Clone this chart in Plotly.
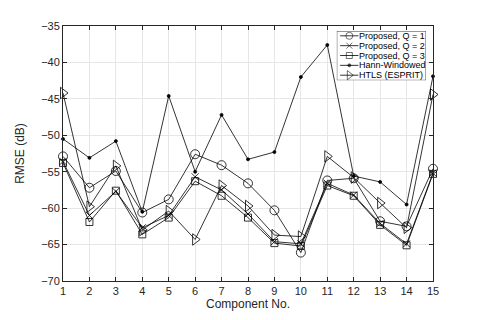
import plotly.graph_objects as go

components = list(range(1, 16))

# RMSE values in dB
q1 = [-52.9, -57.2, -54.9, -60.6, -58.8, -52.6, -54.1, -56.6, -60.3, -66.1, -56.2, -55.9, -61.8, -62.5, -54.6]
q2 = [-53.6, -61.0, -57.7, -62.7, -61.0, -55.7, -57.5, -60.8, -64.6, -64.9, -56.6, -58.2, -62.1, -64.9, -55.2]
q3 = [-53.8, -61.9, -57.6, -63.6, -61.3, -56.3, -58.3, -61.3, -64.8, -65.2, -56.9, -58.3, -62.3, -65.1, -55.3]
hann = [-50.5, -53.1, -50.8, -60.5, -44.6, -55.0, -47.2, -53.3, -52.3, -42.0, -37.6, -55.6, -56.4, -59.5, -41.9]
htls = [-44.2, -59.8, -54.2, -63.0, -60.4, -64.3, -56.9, -59.7, -63.7, -63.9, -52.9, -55.8, -59.3, -62.7, -44.4]

names = ['Proposed, Q = 1', 'Proposed, Q = 2', 'Proposed, Q = 3', 'Hann-Windowed', 'HTLS (ESPRIT)']
values = [q1, q2, q3, hann, htls]
symbols = ['circle-open', 'x-thin-open', 'square-open', 'circle', 'triangle-right-open']
sizes = [9, 7, 7, 3, 10]
legend_sizes = [7, 6, 6, 3, 8]

# legend rows, drawn in a small box axis (x2/y2, in pixels of the box)
legend_rows = [45.2, 35.2, 25.2, 15.2, 5.2]

fig = go.Figure()
for name, vals, sym, size in zip(names, values, symbols, sizes):
    fig.add_trace(go.Scatter(
        x=components, y=vals, mode='lines+markers', name=name,
        line=dict(color='black', width=0.8),
        marker=dict(symbol=sym, size=size, color='black',
                    line=dict(color='black', width=0.8)),
        cliponaxis=False, showlegend=False,
    ))

# hand-made MATLAB style legend (compact rows), white box first
fig.add_trace(go.Scatter(
    x=[0, 89, 89, 0, 0], y=[0, 0, 50, 50, 0], xaxis='x2', yaxis='y2',
    mode='lines', fill='toself', fillcolor='white',
    line=dict(color='#262626', width=0.8),
    showlegend=False, hoverinfo='skip', cliponaxis=False,
))
for name, sym, size, row in zip(names, symbols, legend_sizes, legend_rows):
    fig.add_trace(go.Scatter(
        x=[3.3, 12.5, 21.6], y=[row] * 3, xaxis='x2', yaxis='y2',
        mode='lines+markers', showlegend=False, hoverinfo='skip',
        line=dict(color='black', width=0.8),
        marker=dict(symbol=sym, size=[0, size, 0], color='black',
                    line=dict(color='black', width=0.8)),
        cliponaxis=False,
    ))
    fig.add_annotation(x=21.6, y=row, xref='x2', yref='y2', text=name,
                       showarrow=False, xanchor='left', yanchor='middle',
                       borderpad=0, font=dict(size=9, color='black'))

axis_style = dict(
    showline=True, linecolor='#262626', linewidth=1, mirror='ticks',
    ticks='inside', ticklen=4, tickcolor='#262626',
    showgrid=True, gridcolor='#e6e6e6', gridwidth=1,
    zeroline=False, tickfont=dict(size=11, color='#262626'),
)
box_axis = dict(showgrid=False, zeroline=False, showticklabels=False, ticks='',
                showline=False, fixedrange=True)

# page body adds 8px offset, so the figure is a bit smaller than the window
fig.update_layout(
    width=470, height=312,
    margin=dict(l=54, r=45, t=16, b=36),
    paper_bgcolor='white', plot_bgcolor='white',
    font=dict(family='Liberation Sans, Arial, sans-serif', color='#262626'),
    xaxis=dict(range=[1, 15], dtick=1, tick0=1,
               title=dict(text='Component No.', font=dict(size=12), standoff=2),
               **axis_style),
    yaxis=dict(range=[-70, -35], dtick=5,
               title=dict(text='RMSE (dB)', font=dict(size=12), standoff=13),
               **axis_style),
    xaxis2=dict(domain=[0.740, 0.981], range=[0, 89], anchor='y2', **box_axis),
    yaxis2=dict(domain=[0.787, 0.980], range=[0, 50], anchor='x2', **box_axis),
    showlegend=False,
)

fig.write_html("out.html")
